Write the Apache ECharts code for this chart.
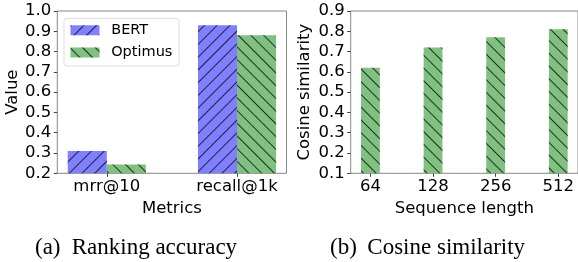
<!DOCTYPE html>
<html>
<head>
<meta charset="utf-8">
<script src="https://cdn.jsdelivr.net/npm/echarts@6/dist/echarts.min.js"></script>
<style>
  html, body { margin: 0; padding: 0; background: #fff; }
  #chart { width: 578px; height: 262px; }
</style>
</head>
<body>
<div id="chart"></div>
<script>
// (a) ranking accuracy
const metrics = ["mrr@10", "recall@1k"];
const bertValues = [0.31, 0.93];
const optimusValues = [0.243, 0.88];
// (b) cosine similarity
const seqLengths = ["64", "128", "256", "512"];
const cosineValues = [0.62, 0.72, 0.77, 0.81];

const FONT = "DejaVu Sans";
const SERIF = "Liberation Serif";
const blue = "#8080ff";
const green = "#80c080";
const spine = "#888";

const hatch = (rot) => ({
  symbol: "rect",
  symbolSize: 1,
  dashArrayX: [1, 0],
  dashArrayY: [1, 8],
  rotation: rot,
  color: "rgba(0,0,0,0.75)",
});

const toPoints = (vals) => vals.map((v, i) => [i, v]);

const xAxisBase = (labels, gridIndex, min, max, name) => ({
  type: "value",
  gridIndex,
  min,
  max,
  name,
  nameLocation: "middle",
  nameGap: 20,
  nameTextStyle: { fontFamily: FONT, fontSize: 16.5, color: "#000" },
  splitLine: { show: false },
  axisLine: { show: false, onZero: false },
  axisTick: {
    show: true,
    length: 3.5,
    lineStyle: { color: "#444" },
    customValues: labels.map((_, i) => i),
  },
  axisLabel: {
    margin: 5,
    fontFamily: FONT,
    fontSize: 16.5,
    color: "#000",
    customValues: labels.map((_, i) => i),
    formatter: (v) => labels[Math.round(v)],
  },
});

const yAxisBase = (gridIndex, min, max, name, nameGap) => ({
  type: "value",
  gridIndex,
  min,
  max,
  interval: 0.1,
  name,
  nameLocation: "middle",
  nameGap,
  nameTextStyle: { fontFamily: FONT, fontSize: 16.5, color: "#000" },
  splitLine: { show: false },
  axisLine: { show: false, onZero: false },
  axisTick: { show: true, length: 3.5, lineStyle: { color: "#444" } },
  axisLabel: {
    margin: 6,
    fontFamily: FONT,
    fontSize: 16.5,
    color: "#000",
    formatter: (v) => v.toFixed(1),
  },
});

const chart = echarts.init(document.getElementById("chart"), null, { renderer: "canvas" });

chart.setOption({
  animation: false,
  backgroundColor: "#fff",
  grid: [
    { left: 57.3, top: 11, width: 229.2, height: 162.3, show: true, borderColor: spine, borderWidth: 1 },
    { left: 350.7, top: 11, width: 228.7, height: 162.3, show: true, borderColor: spine, borderWidth: 1 },
  ],
  xAxis: [
    xAxisBase(metrics, 0, -0.38, 1.38, "Metrics"),
    xAxisBase(seqLengths, 1, -0.315, 3.315, "Sequence length"),
  ],
  yAxis: [
    yAxisBase(0, 0.2, 1.0, "Value", 36),
    yAxisBase(1, 0.1, 0.9, "Cosine similarity", 37.5),
  ],
  legend: {
    data: ["BERT", "Optimus"],
    orient: "vertical",
    left: 64,
    top: 18.3,
    padding: [4.5, 6.7, 6, 6.5],
    itemWidth: 29,
    itemHeight: 10,
    itemGap: 7.2,
    icon: "rect",
    backgroundColor: "rgba(255,255,255,0.8)",
    borderColor: "#ddd",
    borderWidth: 1,
    borderRadius: 3,
    textStyle: { fontFamily: FONT, fontSize: 14.5, color: "#000", padding: [0, 0, 0, 6.7] },
  },
  series: [
    {
      name: "BERT",
      type: "bar",
      xAxisIndex: 0,
      yAxisIndex: 0,
      barWidth: "30%",
      barGap: "0%",
      data: toPoints(bertValues),
      itemStyle: { color: blue, decal: hatch(-Math.PI / 4) },
    },
    {
      name: "Optimus",
      type: "bar",
      xAxisIndex: 0,
      yAxisIndex: 0,
      barWidth: "30%",
      barGap: "0%",
      data: toPoints(optimusValues),
      itemStyle: { color: green, decal: hatch(Math.PI / 4) },
    },
    {
      name: "Cosine",
      type: "bar",
      xAxisIndex: 1,
      yAxisIndex: 1,
      barWidth: "30%",
      data: toPoints(cosineValues),
      itemStyle: { color: green, decal: hatch(Math.PI / 4) },
    },
  ],
  graphic: [
    { type: "text", left: 35, top: 236, style: { text: "(a)", font: `23px "${SERIF}"`, fill: "#000" } },
    { type: "text", left: 71.7, top: 236, style: { text: "Ranking accuracy", font: `23px "${SERIF}"`, fill: "#000" } },
    { type: "text", left: 330, top: 236, style: { text: "(b)", font: `23px "${SERIF}"`, fill: "#000" } },
    { type: "text", left: 367.3, top: 236, style: { text: "Cosine similarity", font: `23px "${SERIF}"`, fill: "#000" } },
  ],
});

window.addEventListener("resize", () => chart.resize());
</script>
</body>
</html>
